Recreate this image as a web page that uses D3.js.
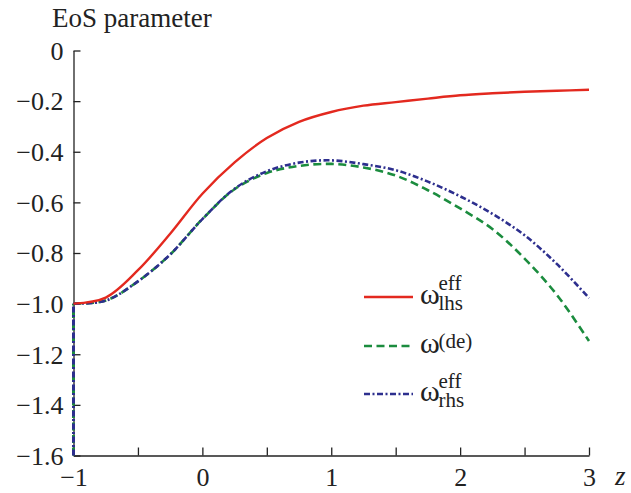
<!DOCTYPE html>
<html>
<head>
<meta charset="utf-8">
<script src="https://cdn.jsdelivr.net/npm/d3@7"></script>
</head>
<body style="margin:0">
<svg id="chart" width="631" height="493" font-family="Liberation Serif" style="display:block"></svg>
<script>
// Redshift grid
const zValues = [-1, -0.75, -0.5, -0.25, 0, 0.25, 0.5, 0.75, 1, 1.25, 1.5, 1.75, 2, 2.25, 2.5, 2.75, 3];

// Effective EoS from the left-hand side
const wLhs = [-1.0, -0.976, -0.868, -0.724, -0.566, -0.442, -0.346, -0.282, -0.243, -0.218, -0.204, -0.19, -0.177, -0.169, -0.163, -0.159, -0.155];
// Dark-energy EoS
const wDe = [-1.0, -0.988, -0.912, -0.806, -0.666, -0.548, -0.484, -0.456, -0.448, -0.462, -0.494, -0.552, -0.624, -0.705, -0.822, -0.965, -1.148];
// Effective EoS from the right-hand side
const wRhs = [-1.0, -0.988, -0.912, -0.806, -0.666, -0.546, -0.477, -0.443, -0.434, -0.449, -0.473, -0.518, -0.576, -0.645, -0.73, -0.843, -0.978];

// Vertical branch at z = -1
const wallValues = [-1.6, -1.0];

const xTicks = [-1, -0.5, 0, 0.5, 1, 1.5, 2, 2.5, 3];
const xTickLabels = ["−1", "", "0", "", "1", "", "2", "", "3"];
const yTicks = [0, -0.2, -0.4, -0.6, -0.8, -1.0, -1.2, -1.4, -1.6];
const yTickLabels = ["0", "−0.2", "−0.4", "−0.6", "−0.8", "−1.0", "−1.2", "−1.4", "−1.6"];

const textFont = "'Liberation Serif', 'Times New Roman', Tinos";
const ink = "#222";
const svg = d3.select("#chart");

const x = d3.scaleLinear().domain([-1, 3]).range([73.5, 589]);
const y = d3.scaleLinear().domain([0, -1.6]).range([50.5, 455.5]);

const tickFont = 26;

function label(sel) {
  return sel.attr("fill", ink)
    .attr("font-family", "Liberation Serif")
    .style("font-family", textFont, "important");
}

// Axes
const xAxis = d3.axisBottom(x).tickValues(xTicks).tickSizeInner(-8).tickSizeOuter(0)
  .tickFormat((d, i) => xTickLabels[i]);
const gx = svg.append("g").attr("transform", `translate(0,${y(-1.6)})`).call(xAxis)
  .attr("font-family", "Liberation Serif");
gx.select(".domain").attr("stroke", ink).attr("stroke-width", 1.3);
gx.selectAll(".tick line").attr("stroke", ink).attr("stroke-width", 1.3);
label(gx.selectAll(".tick text")).style("font-size", tickFont + "px").attr("y", 30).attr("dy", null);

const yAxis = d3.axisLeft(y).tickValues(yTicks).tickSizeInner(-7).tickSizeOuter(0)
  .tickFormat((d, i) => yTickLabels[i]);
const gy = svg.append("g").attr("transform", `translate(${x(-1)},0)`).call(yAxis)
  .attr("font-family", "Liberation Serif");
gy.select(".domain").attr("stroke", ink).attr("stroke-width", 1.3);
gy.selectAll(".tick line").attr("stroke", ink).attr("stroke-width", 1.3);
label(gy.selectAll(".tick text")).style("font-size", tickFont + "px").attr("x", -10).attr("dy", "0.34em");

// Axis titles
label(svg.append("text")).attr("x", 52).attr("y", 27).style("font-size", "27px").text("EoS parameter");
label(svg.append("text")).attr("x", 615).attr("y", 485).style("font-size", "27px")
  .style("font-style", "italic").text("z");

// Curves
const line = d3.line().x((d, i) => x(zValues[i])).y(d => y(d)).curve(d3.curveCatmullRom.alpha(0.5));

const deStyle = { color: "#1b8c3e", dash: "8,4.5", width: 2.6 };
const rhsStyle = { color: "#2d2f8e", dash: "6,2.5,2,2.5", width: 2.6 };
const lhsStyle = { color: "#e3291f", dash: null, width: 2.4 };

const series = [
  Object.assign({ values: wDe }, deStyle),
  Object.assign({ values: wRhs }, rhsStyle),
  Object.assign({ values: wLhs }, lhsStyle)
];

// Vertical branch at z = -1 for the dashed curves
const wall = d3.line().x(() => x(-1)).y(d => y(d));
[deStyle, rhsStyle].forEach(s => {
  svg.append("path").attr("d", wall(wallValues))
    .attr("fill", "none").attr("stroke", s.color).attr("stroke-width", 3)
    .attr("stroke-dasharray", s.dash);
});

series.forEach(s => {
  svg.append("path")
    .attr("d", line(s.values))
    .attr("fill", "none")
    .attr("stroke", s.color)
    .attr("stroke-width", s.width)
    .attr("stroke-dasharray", s.dash);
});

// Legend: symbol followed by a stacked superscript / subscript
const legend = [
  Object.assign({ sup: "eff", sub: "lhs", y: 297, supDy: -7.5, subDy: 12.6 }, lhsStyle),
  Object.assign({ sup: "(de)", sub: null, y: 346, supDy: 1.5 }, deStyle),
  Object.assign({ sup: "eff", sub: "rhs", y: 394, supDy: -6, subDy: 12.6 }, rhsStyle)
];
legend.forEach(l => {
  svg.append("line").attr("x1", 364).attr("x2", 413).attr("y1", l.y).attr("y2", l.y)
    .attr("stroke", l.color).attr("stroke-width", 2.6).attr("stroke-dasharray", l.dash);
  const t = label(svg.append("text")).attr("x", 420).attr("y", l.y + 6.5);
  t.append("tspan").style("font-size", "30px").text("ω");
  t.append("tspan").attr("x", 438.5).attr("y", l.y + l.supDy).style("font-size", "21px").text(l.sup);
  if (l.sub) {
    t.append("tspan").attr("x", 438.5).attr("y", l.y + l.subDy).style("font-size", "21px").text(l.sub);
  }
});
</script>
</body>
</html>
